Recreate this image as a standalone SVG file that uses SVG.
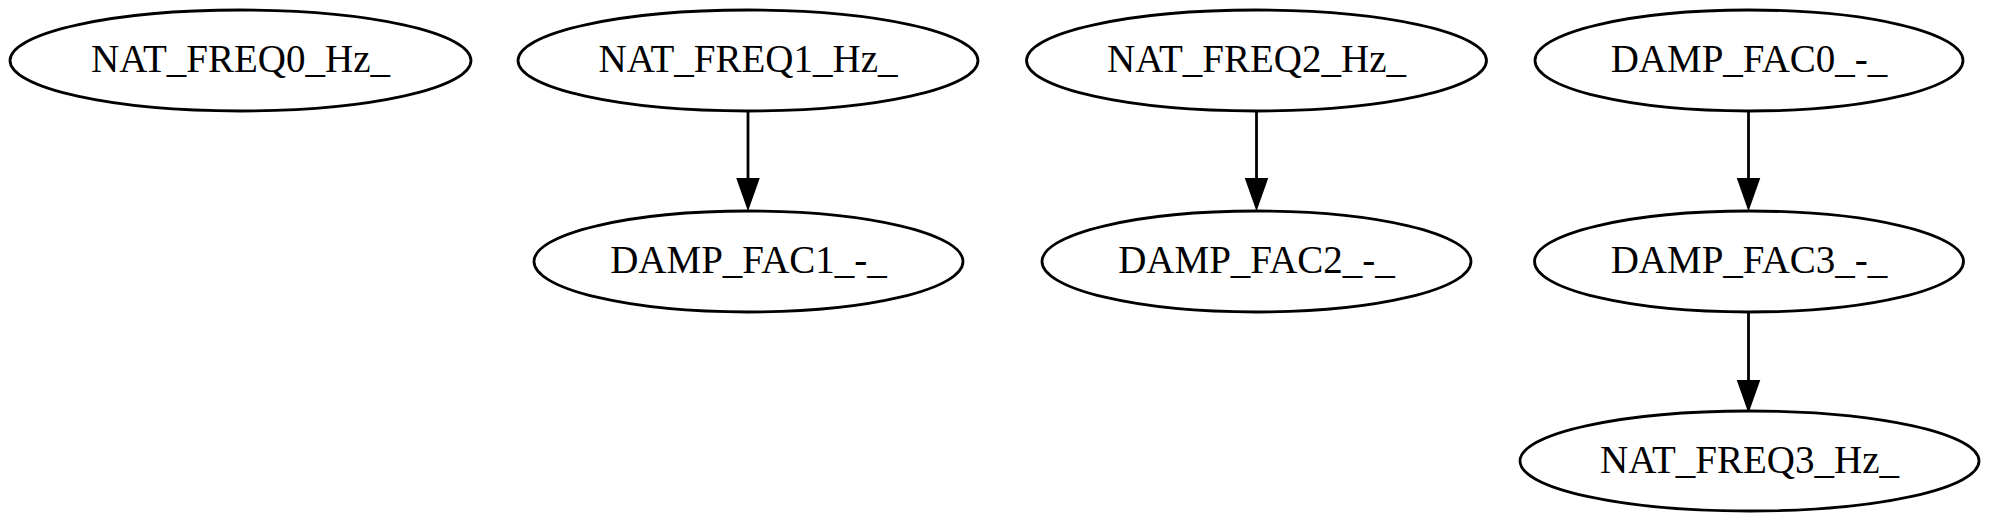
<svg xmlns="http://www.w3.org/2000/svg" width="1989" height="522" viewBox="0 0 1989 522">
<style>
.node ellipse{fill:none;stroke:#000;stroke-width:2.8}
.node text{font-family:"Liberation Serif","Times New Roman",serif;font-size:39px;text-anchor:middle;fill:#000}
.edge{stroke:#000;stroke-width:2.8;fill:none}
</style>
<defs>
<marker id="arrow" markerUnits="userSpaceOnUse" markerWidth="32" markerHeight="24" viewBox="0 0 32 24" refX="0" refY="12" orient="auto">
<path d="M0,1 L31,12 L0,23 Z" fill="#000" stroke="#000" stroke-width="1.5"/>
</marker>
</defs>
<rect width="1989" height="522" fill="#fff"/>
<g id="NAT_FREQ0_Hz_" class="node"><ellipse cx="240.5" cy="60.5" rx="230.5" ry="50.5"/><text x="240.5" y="72">NAT_FREQ0_Hz_</text></g>
<g id="NAT_FREQ1_Hz_" class="node"><ellipse cx="748" cy="60.5" rx="230" ry="50.5"/><text x="748" y="72">NAT_FREQ1_Hz_</text></g>
<g id="NAT_FREQ2_Hz_" class="node"><ellipse cx="1256.5" cy="60.5" rx="230" ry="50.5"/><text x="1256.5" y="72">NAT_FREQ2_Hz_</text></g>
<g id="DAMP_FAC0_-_" class="node"><ellipse cx="1749" cy="60.5" rx="214" ry="50.5"/><text x="1749" y="72">DAMP_FAC0_-_</text></g>
<g id="DAMP_FAC1_-_" class="node"><ellipse cx="748.5" cy="261.5" rx="214.5" ry="50.5"/><text x="748.5" y="273">DAMP_FAC1_-_</text></g>
<g id="DAMP_FAC2_-_" class="node"><ellipse cx="1256.5" cy="261.5" rx="214.5" ry="50.5"/><text x="1256.5" y="273">DAMP_FAC2_-_</text></g>
<g id="DAMP_FAC3_-_" class="node"><ellipse cx="1749" cy="261.5" rx="214.5" ry="50.5"/><text x="1749" y="273">DAMP_FAC3_-_</text></g>
<g id="NAT_FREQ3_Hz_" class="node"><ellipse cx="1749.5" cy="461" rx="229.5" ry="50"/><text x="1749.5" y="472.5">NAT_FREQ3_Hz_</text></g>
<g id="connectors">
<line class="edge" x1="748" y1="111" x2="748" y2="178" marker-end="url(#arrow)"/>
<line class="edge" x1="1256.5" y1="111" x2="1256.5" y2="178" marker-end="url(#arrow)"/>
<line class="edge" x1="1748.5" y1="111" x2="1748.5" y2="178" marker-end="url(#arrow)"/>
<line class="edge" x1="1748.5" y1="312" x2="1748.5" y2="380" marker-end="url(#arrow)"/>
</g>
</svg>
